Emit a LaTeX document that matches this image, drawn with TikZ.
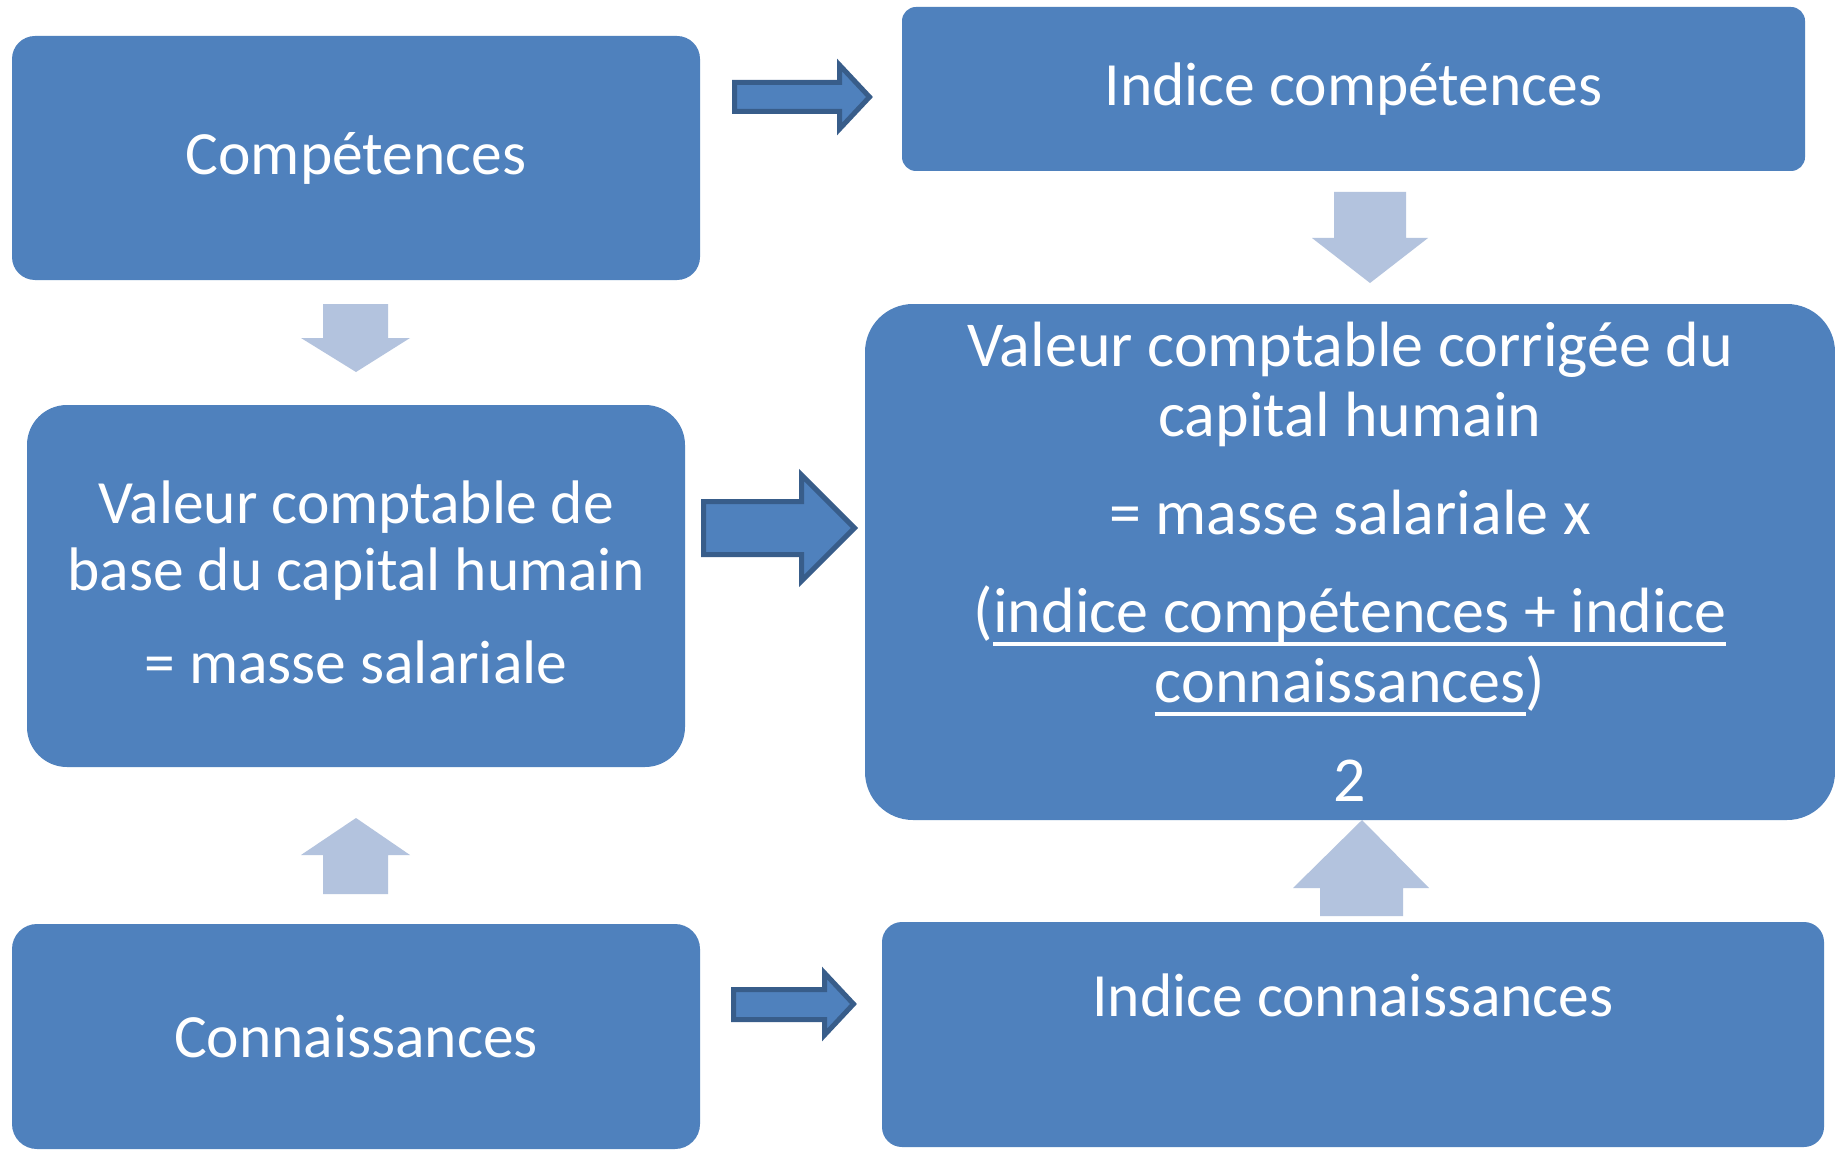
\documentclass[tikz,border=0pt]{standalone}
\usepackage{fontspec}
\setmainfont{Carlito}
% underline drawn at a fixed depth below the baseline
\newcommand\undertext[1]{\setbox0=\hbox{#1}\rlap{\vrule height -9.5pt depth 13pt width \wd0}\box0}
\definecolor{boxblue}{HTML}{4F81BD}
\definecolor{arrowlight}{HTML}{B3C3DE}
\definecolor{arrowedge}{HTML}{385D8A}
\begin{document}
\begin{tikzpicture}[x=1pt,y=-1pt,
  box/.style={fill=boxblue, draw=none, inner sep=0pt, text=white, align=center,
    font=\fontsize{61.5}{67}\selectfont},
  bigbox/.style={box, font=\fontsize{64}{70}\selectfont},
  boxtext/.style={inner sep=0pt, text=white, align=center, font=\fontsize{61.5}{67}\selectfont},
  lightarrow/.style={fill=arrowlight, draw=none},
  darkarrow/.style={fill=boxblue, draw=arrowedge, line width=5pt, line join=miter}]
\useasboundingbox[fill=white] (0,0) rectangle (1835,1150);

% Boxes
\node[box, minimum width=688pt, minimum height=244pt, rounded corners=23pt] (comp) at (356,158) {Compétences};
\node[box, minimum width=903pt, minimum height=164pt, rounded corners=14pt] (icomp) at (1353.5,89) {Indice compétences};
\node[box, minimum width=658pt, minimum height=362pt, rounded corners=40pt] (base) at (356,586) {};
\node[boxtext] (basetext) at ([yshift=4pt]base.center)
  {Valeur comptable de\\base du capital humain\\[26pt]= masse salariale};
\node[bigbox, minimum width=970pt, minimum height=516pt, rounded corners=48pt] (corr) at (1350,562)
  {Valeur comptable corrigée du\\capital humain\\[28pt]= masse salariale x\\[28pt]%
   (\undertext{indice compétences + indice}\\\undertext{connaissances})\\[29pt]2};
\node[box, minimum width=688pt, minimum height=225pt, rounded corners=25pt] (conn) at (356,1036.5) {Connaissances};
\node[box, minimum width=942pt, minimum height=225pt, rounded corners=20pt] (iconn) at (1353,1034.5) {};
\node[boxtext] (iconntext) at ([yshift=39pt]iconn.center) {Indice connaissances};

% Outlined right-pointing arrows
\draw[darkarrow] (734.5,82.5) -- (839.5,82.5) -- (839.5,65) -- (869.5,97) -- (839.5,129) -- (839.5,111.5) -- (734.5,111.5) -- cycle;
\draw[darkarrow] (703.5,501.5) -- (801.5,501.5) -- (801.5,475) -- (854.5,528) -- (801.5,581) -- (801.5,554.5) -- (703.5,554.5) -- cycle;
\draw[darkarrow] (733.5,989.5) -- (824.5,989.5) -- (824.5,973) -- (853.5,1004) -- (824.5,1035) -- (824.5,1019.5) -- (733.5,1019.5) -- cycle;

% Light vertical arrows
\fill[lightarrow] (323,304) -- (388,304) -- (388,338) -- (410,338) -- (356,372) -- (301,338) -- (323,338) -- cycle;
\fill[lightarrow] (1334,192) -- (1406,192) -- (1406,238) -- (1428,238) -- (1370,283) -- (1312,238) -- (1334,238) -- cycle;
\fill[lightarrow] (323,894) -- (388,894) -- (388,855) -- (410,855) -- (356,818) -- (301,855) -- (323,855) -- cycle;
\fill[lightarrow] (1320,916) -- (1403,916) -- (1403,888) -- (1429,888) -- (1362,820) -- (1293,888) -- (1320,888) -- cycle;
\end{tikzpicture}
\end{document}
